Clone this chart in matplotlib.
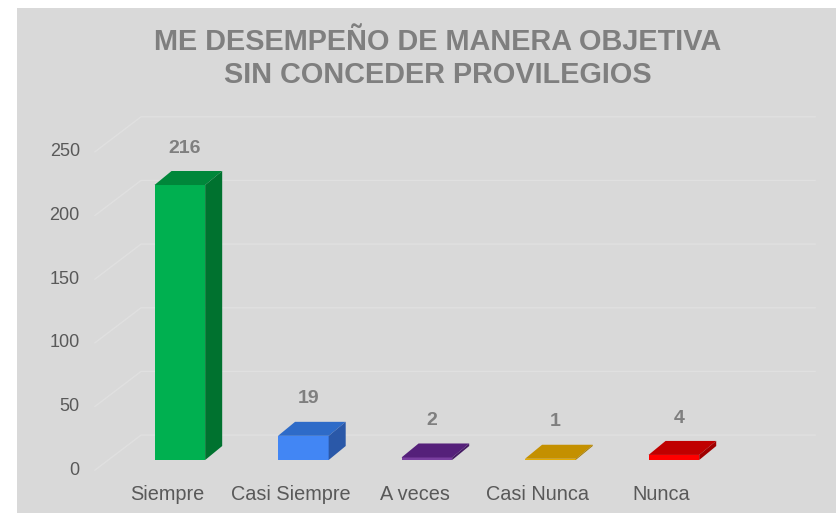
import matplotlib.pyplot as plt
from matplotlib.patches import Polygon, Rectangle
import numpy as np

plt.rcParams['font.family'] = ['Liberation Sans', 'DejaVu Sans']

titulo = ["ME DESEMPEÑO DE MANERA OBJETIVA", "SIN CONCEDER PROVILEGIOS"]
categorias = ["Siempre", "Casi Siempre", "A veces", "Casi Nunca", "Nunca"]
valores = [216, 19, 2, 1, 4]
marcas_y = [0, 50, 100, 150, 200, 250]

# colores: frente, tapa, lado
col_frente = ["#00b050", "#4286f4", "#7a3fa0", "#e6ac00", "#ff0000"]
col_tapa = ["#00873a", "#2e6bc8", "#55207a", "#c49000", "#c00000"]
col_lado = ["#00722f", "#2a58a8", "#451a64", "#a87c00", "#a00000"]

fig = plt.figure(figsize=(8.37, 5.13), dpi=100)
fig.patch.set_facecolor("white")
# fondo gris del grafico
fig.patches.append(Rectangle((17 / 837, 0), 1, 505 / 513, transform=fig.transFigure,
                             facecolor="#d9d9d9", edgecolor="none", zorder=-5))

ax = fig.add_axes([0, 0, 1, 1])
ax.set_xlim(-1.456, 5.321)
ax.set_ylim(-41.6, 361.3)
ax.axis("off")
ax.patch.set_alpha(0)
ax.set_zorder(2)

x = np.arange(len(categorias))
ancho = 0.41
dx = 0.138   # profundidad en x
dy = 11.0    # profundidad en y
pared = 19.6  # desplazamiento de la pared del fondo
bajo = -7.9   # nivel de las etiquetas

# lineas de cuadricula con perspectiva
for v in marcas_y:
    ax.plot([-0.687, -0.314, 5.144], [v + bajo, v + pared, v + pared],
            color="#e0e0e0", lw=1, zorder=1)
    ax.text(-0.81, v + bajo, str(v), ha="right", va="center",
            fontsize=13, color="#595959")

# barras 3D
ax.bar(x, valores, width=ancho, color=col_frente, zorder=3)
for i, v in enumerate(valores):
    xl, xr = x[i] - ancho / 2, x[i] + ancho / 2
    tapa = Polygon([(xl, v), (xr, v), (xr + dx, v + dy), (xl + dx, v + dy)],
                   closed=True, facecolor=col_tapa[i], edgecolor="none", zorder=4)
    lado = Polygon([(xr, 0), (xr + dx, dy), (xr + dx, v + dy), (xr, v)],
                   closed=True, facecolor=col_lado[i], edgecolor="none", zorder=4)
    ax.add_patch(tapa)
    ax.add_patch(lado)
    ax.text(x[i] + 0.04, v + dy + 18, str(v), ha="center", va="center",
            fontsize=14, fontweight="bold", color="#7f7f7f")
    ax.text(x[i] - 0.1, -26.7, categorias[i], ha="center", va="center",
            fontsize=14.3, color="#595959")

for k, linea in enumerate(titulo):
    fig.text(438 / 837, 1 - (50 + 33 * k) / 513, linea, ha="center", va="baseline",
             fontsize=20.8, fontweight="bold", color="#7f7f7f")

fig.savefig("out.png", dpi=100)
